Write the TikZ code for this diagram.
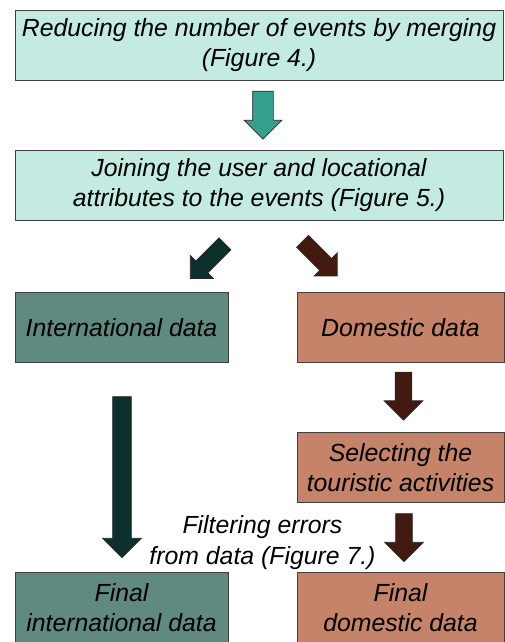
\documentclass[tikz,border=0pt]{standalone}
\usepackage{fontspec}
\setmainfont{Liberation Sans}
\usepackage{tikz}
\usetikzlibrary{shapes.arrows, calc}
\definecolor{stepFill}{HTML}{C4EBE2}
\definecolor{intlFill}{HTML}{608A80}
\definecolor{domFill}{HTML}{C58369}
\definecolor{tealArrow}{HTML}{36A08C}
\definecolor{intlArrow}{HTML}{0E302C}
\definecolor{domArrow}{HTML}{431A10}
\tikzstyle{fStep} = [rectangle, minimum width=488pt, minimum height=70pt, inner sep=3pt, align=center, draw=black!75, line width=0.8pt, fill=stepFill]
\tikzstyle{fIntl} = [rectangle, minimum width=213pt, minimum height=70pt, inner sep=3pt, align=center, draw=black!75, line width=0.8pt, fill=intlFill]
\tikzstyle{fDom} = [rectangle, minimum width=207pt, minimum height=70pt, inner sep=3pt, align=center, draw=black!75, line width=0.8pt, fill=domFill]
\tikzstyle{fBlock} = [single arrow, draw=black!85, line width=0.7pt, inner xsep=0pt, inner ysep=9pt, minimum height=48pt, minimum width=38pt, single arrow head extend=10pt]
\tikzstyle{fSlant} = [fBlock, inner ysep=8pt, minimum width=32pt, single arrow head extend=8pt, minimum height=49pt]

\begin{document}
\begin{tikzpicture}[node distance=140pt, font=\itshape\fontsize{24.8}{30.5}\selectfont]
    \useasboundingbox (0,0) rectangle (505pt,-642pt);
    \node (merge) [fStep] at (259pt,-45pt) {Reducing the number of events by merging\\(Figure 4.)};
    \node (join) [fStep, below of=merge] {Joining the user and locational\\attributes to the events (Figure 5.)};
    \node (intl) [fIntl, below of=join, xshift=-137.5pt, yshift=-2.5pt] {International data};
    \node (dom) [fDom, right of=intl, xshift=139pt] {Domestic data};
    \node (select) [fDom, below of=dom] {Selecting the\\touristic activities};
    \node (finalintl) [fIntl, below of=intl, yshift=-140pt] {Final\\international data};
    \node (finaldom) [fDom, below of=select] {Final\\domestic data};
    \node (filter) [align=center, yshift=29.5pt] at ($(finalintl.north east)!0.5!(finaldom.north west)$) {Filtering errors\\from data (Figure 7.)};

    \path (merge.center) -- node[fBlock, fill=tealArrow, inner ysep=10pt, single arrow head extend=8.5pt, minimum width=37pt, xshift=4pt, yshift=5pt, rotate=-90] {} (join.center);
    \path (join.center) -- node[fSlant, fill=intlArrow, xshift=20.3pt, yshift=-1.95pt, rotate=-135] {} (intl.center);
    \path (join.center) -- node[fSlant, fill=domArrow, xshift=-12.8pt, yshift=0.55pt, rotate=-45] {} (dom.center);
    \path (intl.center) -- node[fBlock, fill=intlArrow, minimum height=161pt, xshift=0.5pt, yshift=-5pt, rotate=-90] {} (finalintl.center);
    \path (dom.center) -- node[fBlock, fill=domArrow, inner ysep=8pt, single arrow head extend=11pt, xshift=3pt, yshift=5.5pt, rotate=-90] {} (select.center);
    \path (select.center) -- node[fBlock, fill=domArrow, inner ysep=8pt, single arrow head extend=11pt, xshift=3.5pt, yshift=4pt, rotate=-90] {} (finaldom.center);
\end{tikzpicture}
\end{document}
